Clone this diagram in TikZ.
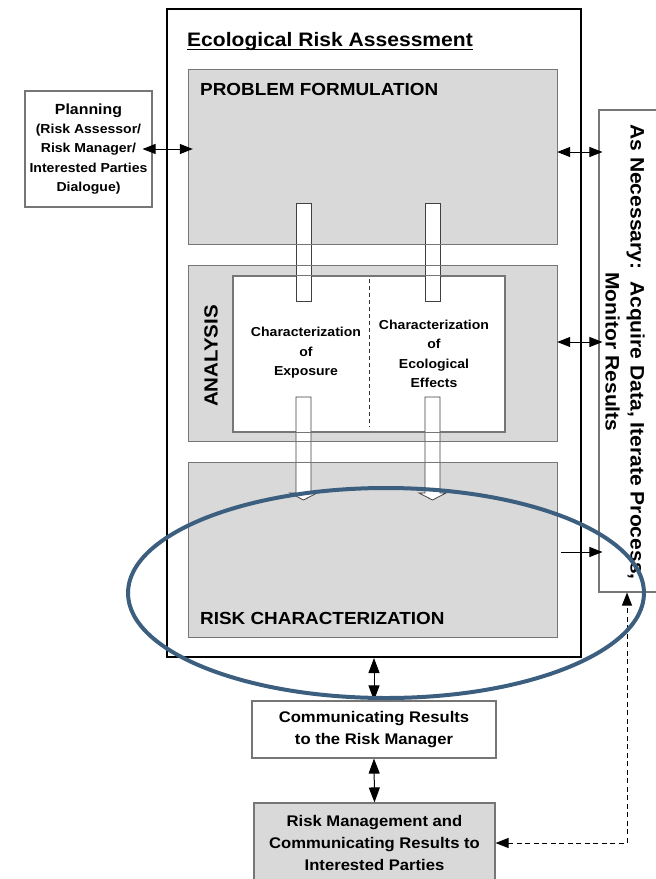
\documentclass[tikz,border=0pt]{standalone}
\usepackage{fontspec}
\setmainfont{Liberation Sans}[FakeStretch=1.08]
\usetikzlibrary{arrows.meta,calc}
\definecolor{panelgray}{RGB}{217,217,217}
\definecolor{edgegray}{RGB}{118,118,118}
\definecolor{ringblue}{RGB}{60,95,128}
\newcommand{\fsz}[2]{\fontsize{#1}{#2}\selectfont\bfseries}
\begin{document}
\begin{tikzpicture}[x=1pt,y=-1pt,
  panelfill/.style={rectangle, fill=panelgray, inner sep=0pt},
  edge/.style={draw=edgegray, line width=1.1pt},
  plainbox/.style={rectangle, draw=edgegray, line width=1.1pt, fill=white, inner sep=0pt, align=center},
  graybox/.style={plainbox, fill=panelgray},
  frame/.style={rectangle, draw=black, line width=2pt, inner sep=0pt},
  heading/.style={inner sep=0pt, font=\fsz{17.5}{20}},
  small/.style={inner sep=0pt, align=center, font=\fsz{13}{19.4}},
  bar/.style={fill=white, draw=black!75, line width=0.8pt},
  divider/.style={draw=black!80, line width=0.8pt, dash pattern=on 4pt off 3pt},
  both/.style={line width=1pt, {Triangle[length=13pt,width=10pt]}-{Triangle[length=13pt,width=10pt]}},
  vboth/.style={line width=1pt, {Triangle[length=15pt,width=11pt]}-{Triangle[length=15pt,width=11pt]}},
  single/.style={line width=1pt, -{Triangle[length=13pt,width=10pt]}},
  dashlink/.style={line width=1pt, dash pattern=on 5pt off 3.5pt, {Triangle[length=13pt,width=10pt]}-{Triangle[length=13pt,width=10pt]}}
]
\path[use as bounding box] (0,0) rectangle (656,879);
\clip (0,0) rectangle (656,879);

% outer frame and its title
\node[frame, minimum width=414pt, minimum height=648pt] (era) at (374,333) {};
\node[anchor=base west, inner sep=0pt, font=\fsz{19.5}{22}] (title) at (187,46) {Ecological Risk Assessment};
\draw[line width=1.6pt] ($(title.base west)+(0,3.5)$) -- ($(title.base east)+(0,3.5)$);

% the three stage panels
\node[panelfill, minimum width=368pt, minimum height=174pt] (pf) at (373,157) {};
\node[panelfill, minimum width=368pt, minimum height=175pt] (an) at (373,353.5) {};
\node[panelfill, minimum width=368pt, minimum height=174pt] (rc) at (373,550) {};
\node[plainbox, minimum width=272pt, minimum height=156pt] (inner) at (369,354) {};

% hollow flow bars between the stages
\foreach \a/\b in {296/311, 425/440}
  \draw[bar] (\a,203) rectangle (\b,301);
\foreach \a/\b in {296/311, 425/440}
  \draw[bar] (\a,397) -- (\a,493) -- (\a-6,493) -- ({(\a+\b)/2},500)
             -- (\b+6,493) -- (\b,493) -- (\b,397) -- cycle;

% panel borders on top of the bars
\foreach \n in {pf,an,rc,inner}
  \draw[edge] (\n.north west) rectangle (\n.south east);
\draw[divider] ($(inner.north)+(0,4)$) -- ($(inner.south)+(0,-6)$);

% panel texts
\node[heading, anchor=base west] (pflabel) at (200,95) {PROBLEM FORMULATION};
\node[heading, anchor=base west] (rclabel) at (200,624) {RISK CHARACTERIZATION};
\node[inner sep=0pt, rotate=90, font=\fsz{19}{22}] (anlabel) at (211,356) {ANALYSIS};
\node[small] (expo) at (306,353) {Characterization\\of\\Exposure};
\node[small] (eco) at (434,354) {Characterization\\of\\Ecological\\Effects};

% side boxes
\node[plainbox, minimum width=127pt, minimum height=116pt, font=\fsz{13}{19.3}] (plan) at (88.5,149)
  {{\fontsize{14.7}{19.3}\selectfont Planning}\\(Risk Assessor/\\Risk Manager/\\Interested Parties\\Dialogue)};
\node[plainbox, minimum width=81pt, minimum height=482pt] (side) at (639.5,351) {};
\node[inner sep=0pt, rotate=-90, align=center, font=\fsz{19.5}{25}] (sidetext) at (625,352)
  {As Necessary:\ \ Acquire Data, Iterate Process,\\Monitor Results};

% reporting boxes
\node[plainbox, minimum width=244pt, minimum height=57pt, font=\fsz{15.4}{22}] (cr) at (374,729.5)
  {Communicating Results\\to the Risk Manager};
\node[graybox, minimum width=241pt, minimum height=80pt, font=\fsz{15.4}{22}] (rm) at (374.5,843)
  {Risk Management and\\Communicating Results to\\Interested Parties};

% connectors
\draw[both] ($(plan.east)+(-10,0)$) -- ($(plan.east -| pf.west)+(4,0)$);
\draw[both] ($(pf.east)+(0,-5)$) -- ($(pf.east -| side.west)+(4,-5)$);
\draw[both] ($(an.east)+(0,-11.5)$) -- ($(an.east -| side.west)+(4,-11.5)$);
\draw[single] ($(rc.east)+(4,2)$) -- ($(rc.east -| side.west)+(4,2)$);
\draw[vboth] (era.south) -- (cr.north);
\draw[vboth] (cr.south) -- (rm.north);
\draw[dashlink] (rm.east) -| ($(side.south)+(-12.5,0)$);

% highlight ring round the risk characterization stage
\draw[ringblue, line width=4pt] (386,593) ellipse [x radius=258pt, y radius=105pt];
\end{tikzpicture}
\end{document}
